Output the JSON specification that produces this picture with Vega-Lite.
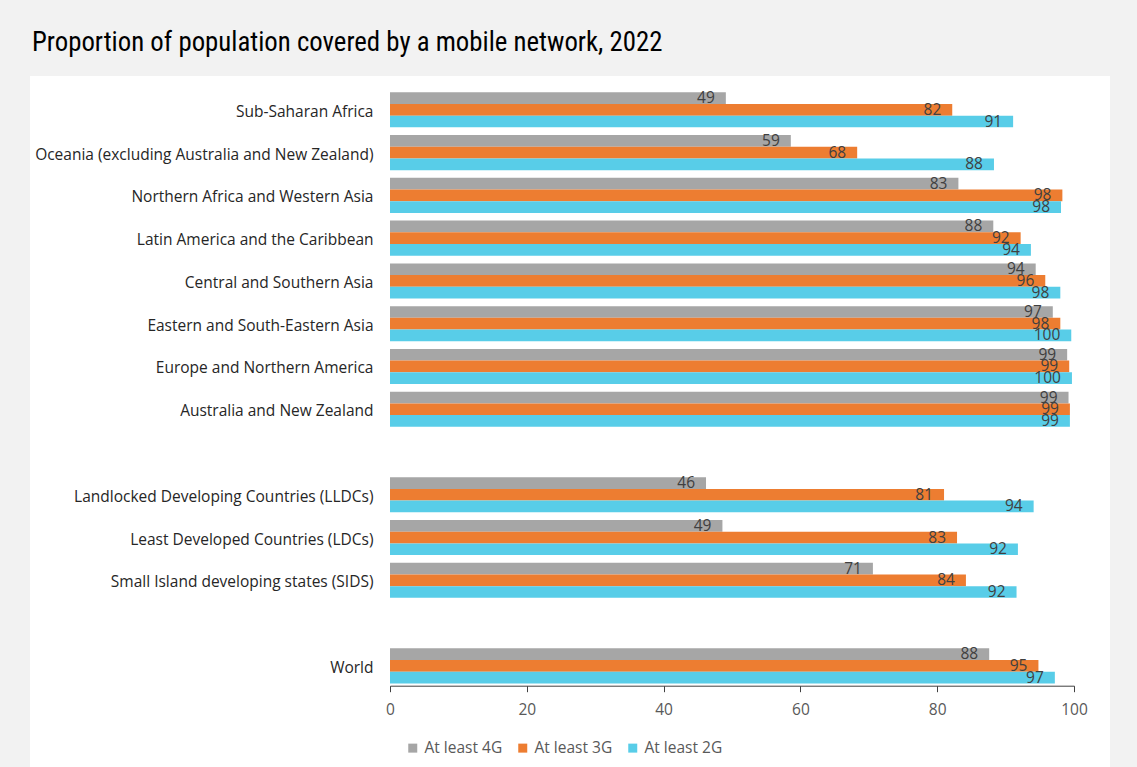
{
  "$schema": "https://vega.github.io/schema/vega-lite/v6.json",
  "width": 1080,
  "height": 691,
  "autosize": {"type": "none"},
  "padding": {"left": 30, "top": 76, "right": 27, "bottom": 0},
  "background": "#f2f2f2",
  "config": {
    "view": {"fill": "white", "stroke": null},
    "font": "Open Sans"
  },
  "title": {
    "text": "Proportion of population covered by a mobile network, 2022",
    "anchor": "start",
    "frame": "group",
    "dx": 2,
    "offset": 19,
    "font": "Roboto Condensed, Liberation Sans Narrow, Roboto",
    "fontSize": 26.8,
    "fontWeight": "normal",
    "color": "#000000"
  },
  "data": {
    "values": [
      {"region": "Sub-Saharan Africa", "series": "At least 4G", "value": 49.1},
      {"region": "Sub-Saharan Africa", "series": "At least 3G", "value": 82.2},
      {"region": "Sub-Saharan Africa", "series": "At least 2G", "value": 91.1},
      {"region": "Oceania (excluding Australia and New Zealand)", "series": "At least 4G", "value": 58.6},
      {"region": "Oceania (excluding Australia and New Zealand)", "series": "At least 3G", "value": 68.3},
      {"region": "Oceania (excluding Australia and New Zealand)", "series": "At least 2G", "value": 88.3},
      {"region": "Northern Africa and Western Asia", "series": "At least 4G", "value": 83.1},
      {"region": "Northern Africa and Western Asia", "series": "At least 3G", "value": 98.3},
      {"region": "Northern Africa and Western Asia", "series": "At least 2G", "value": 98.1},
      {"region": "Latin America and the Caribbean", "series": "At least 4G", "value": 88.2},
      {"region": "Latin America and the Caribbean", "series": "At least 3G", "value": 92.2},
      {"region": "Latin America and the Caribbean", "series": "At least 2G", "value": 93.7},
      {"region": "Central and Southern Asia", "series": "At least 4G", "value": 94.4},
      {"region": "Central and Southern Asia", "series": "At least 3G", "value": 95.8},
      {"region": "Central and Southern Asia", "series": "At least 2G", "value": 98.0},
      {"region": "Eastern and South-Eastern Asia", "series": "At least 4G", "value": 96.9},
      {"region": "Eastern and South-Eastern Asia", "series": "At least 3G", "value": 98.0},
      {"region": "Eastern and South-Eastern Asia", "series": "At least 2G", "value": 99.6},
      {"region": "Europe and Northern America", "series": "At least 4G", "value": 99.0},
      {"region": "Europe and Northern America", "series": "At least 3G", "value": 99.3},
      {"region": "Europe and Northern America", "series": "At least 2G", "value": 99.7},
      {"region": "Australia and New Zealand", "series": "At least 4G", "value": 99.2},
      {"region": "Australia and New Zealand", "series": "At least 3G", "value": 99.4},
      {"region": "Australia and New Zealand", "series": "At least 2G", "value": 99.4},
      {"region": "Landlocked Developing Countries (LLDCs)", "series": "At least 4G", "value": 46.2},
      {"region": "Landlocked Developing Countries (LLDCs)", "series": "At least 3G", "value": 81.0},
      {"region": "Landlocked Developing Countries (LLDCs)", "series": "At least 2G", "value": 94.1},
      {"region": "Least Developed Countries (LDCs)", "series": "At least 4G", "value": 48.6},
      {"region": "Least Developed Countries (LDCs)", "series": "At least 3G", "value": 82.9},
      {"region": "Least Developed Countries (LDCs)", "series": "At least 2G", "value": 91.8},
      {"region": "Small Island developing states (SIDS)", "series": "At least 4G", "value": 70.6},
      {"region": "Small Island developing states (SIDS)", "series": "At least 3G", "value": 84.2},
      {"region": "Small Island developing states (SIDS)", "series": "At least 2G", "value": 91.6},
      {"region": "World", "series": "At least 4G", "value": 87.6},
      {"region": "World", "series": "At least 3G", "value": 94.8},
      {"region": "World", "series": "At least 2G", "value": 97.2}
    ]
  },
  "encoding": {
    "y": {
      "field": "region",
      "type": "nominal",
      "scale": {
        "domain": [
          "Sub-Saharan Africa",
          "Oceania (excluding Australia and New Zealand)",
          "Northern Africa and Western Asia",
          "Latin America and the Caribbean",
          "Central and Southern Asia",
          "Eastern and South-Eastern Asia",
          "Europe and Northern America",
          "Australia and New Zealand",
          " ",
          "Landlocked Developing Countries (LLDCs)",
          "Least Developed Countries (LDCs)",
          "Small Island developing states (SIDS)",
          "  ",
          "World"
        ],
        "range": [16.3, 607.4],
        "paddingInner": 0.18,
        "paddingOuter": 0
      },
      "axis": {
        "title": null,
        "domain": false,
        "ticks": false,
        "tickSize": 0,
        "labelPadding": 0,
        "offset": -343,
        "labelOffset": 2,
        "labelFont": "Open Sans",
        "labelFontSize": 15.5,
        "labelColor": "#262626",
        "labelLimit": 400
      }
    },
    "yOffset": {
      "field": "series",
      "type": "nominal",
      "scale": {"domain": ["At least 4G", "At least 3G", "At least 2G"]}
    },
    "x": {
      "field": "value",
      "type": "quantitative",
      "scale": {"domain": [0, 100], "range": [360, 1044], "nice": false, "zero": true},
      "axis": {
        "title": null,
        "grid": false,
        "values": [0, 20, 40, 60, 80, 100],
        "offset": -81.3,
        "labelFlush": false,
        "domainColor": "#404040",
        "tickColor": "#404040",
        "tickSize": 6,
        "labelFont": "Open Sans",
        "labelFontSize": 15.5,
        "labelColor": "#595959",
        "labelPadding": 11
      }
    }
  },
  "layer": [
    {
      "mark": {"type": "bar"},
      "encoding": {
        "color": {
          "field": "series",
          "type": "nominal",
          "scale": {
            "domain": ["At least 4G", "At least 3G", "At least 2G"],
            "range": ["#a6a6a6", "#ed7d31", "#58cde8"]
          },
          "legend": {
            "title": null,
            "orient": "none",
            "legendX": 375,
            "legendY": 664,
            "direction": "horizontal",
            "symbolType": "square",
            "symbolSize": 81,
            "symbolStrokeWidth": 0,
            "labelFont": "Open Sans",
            "labelFontSize": 15.5,
            "labelColor": "#595959",
            "labelOffset": 4,
            "columnPadding": 12,
            "padding": 0
          }
        }
      }
    },
    {
      "mark": {"type": "text", "align": "right", "baseline": "middle", "dx": -11, "fontSize": 15.5, "font": "Open Sans", "color": "#404040"},
      "encoding": {
        "text": {"field": "value", "type": "quantitative", "format": ".0f"}
      }
    }
  ]
}
